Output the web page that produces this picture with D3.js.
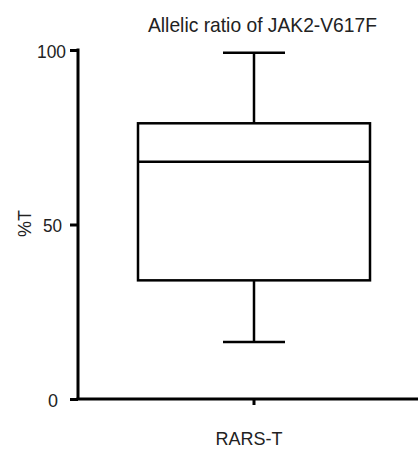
<!DOCTYPE html>
<html>
<head>
<meta charset="utf-8">
<script src="https://cdn.jsdelivr.net/npm/d3@7"></script>
<style>
  body { margin: 0; background: #fff; }
  svg { display: block; font-family: "Liberation Sans", Arial, sans-serif; }
</style>
</head>
<body>
<div class="visiHolder"></div>
<script>
const categories = ["RARS-T"];
const minValues = [16.3];
const q1Values = [34];
const medianValues = [68];
const q3Values = [79];
const maxValues = [99.2];
const yTicks = [0, 50, 100];

const width = 418;
const height = 450;

const svg = d3
  .select(".visiHolder")
  .append("svg")
  .attr("width", width)
  .attr("height", height);

const yScale = d3.scaleLinear().domain([0, 100]).range([399, 50]);
const xScale = d3.scaleBand().domain(categories).range([78, 430]);

// title (condensed look via textLength)
svg
  .append("text")
  .attr("x", 148)
  .attr("y", 32)
  .attr("font-size", 21)
  .attr("fill", "#222")
  .attr("textLength", 229)
  .attr("lengthAdjust", "spacingAndGlyphs")
  .text("Allelic ratio of JAK2-V617F");

// y axis
const yAxis = d3.axisLeft(yScale).tickValues(yTicks).tickSize(8).tickPadding(5);
const yG = svg
  .append("g")
  .attr("transform", "translate(78, 0)")
  .call(yAxis);
yG.select(".domain").attr("d", `M0,${yScale(100) - 1.5}V${yScale(0)}`).attr("stroke-width", 3);
yG.selectAll(".tick line").attr("stroke-width", 3);
yG.selectAll(".tick text")
  .attr("font-size", 19)
  .attr("fill", "#222")
  .attr("dy", "0.38em")
  .attr("x", (d) => (d === 100 ? -12 : d === 50 ? -16 : -20))
  .attr("textLength", (d) => (d === 100 ? 29 : d === 50 ? 19 : 10))
  .attr("lengthAdjust", "spacingAndGlyphs");

// x axis
const xAxis = d3.axisBottom(xScale).tickSize(6).tickPadding(27);
const xG = svg
  .append("g")
  .attr("transform", `translate(0, ${yScale(0)})`)
  .call(xAxis);
xG.select(".domain").attr("d", `M76.5,0H${width}`).attr("stroke-width", 3);
xG.selectAll(".tick line").attr("stroke-width", 3);
xG.selectAll(".tick text")
  .attr("font-size", 19)
  .attr("fill", "#222")
  .attr("dx", -5)
  .attr("textLength", 67)
  .attr("lengthAdjust", "spacingAndGlyphs");

// y label
svg
  .append("text")
  .attr("transform", `translate(31, ${yScale(50) - 1}) rotate(-90)`)
  .attr("text-anchor", "middle")
  .attr("font-size", 19)
  .attr("fill", "#222")
  .attr("textLength", 27)
  .attr("lengthAdjust", "spacingAndGlyphs")
  .text("%T");

// box plot
const boxWidth = 232;
const capWidth = 62;
const g = svg.append("g");
categories.forEach((c, i) => {
  const cx = xScale(c) + xScale.bandwidth() / 2;
  // whiskers
  g.append("line")
    .attr("x1", cx).attr("x2", cx)
    .attr("y1", yScale(maxValues[i])).attr("y2", yScale(q3Values[i]))
    .attr("stroke", "#000").attr("stroke-width", 2.5);
  g.append("line")
    .attr("x1", cx).attr("x2", cx)
    .attr("y1", yScale(q1Values[i])).attr("y2", yScale(minValues[i]))
    .attr("stroke", "#000").attr("stroke-width", 2.5);
  [maxValues[i], minValues[i]].forEach((v) => {
    g.append("line")
      .attr("x1", cx - capWidth / 2).attr("x2", cx + capWidth / 2)
      .attr("y1", yScale(v)).attr("y2", yScale(v))
      .attr("stroke", "#000").attr("stroke-width", 2.5);
  });
  // box
  g.append("rect")
    .attr("x", cx - boxWidth / 2)
    .attr("y", yScale(q3Values[i]))
    .attr("width", boxWidth)
    .attr("height", yScale(q1Values[i]) - yScale(q3Values[i]))
    .attr("fill", "none")
    .attr("stroke", "#000")
    .attr("stroke-width", 2.5);
  // median
  g.append("line")
    .attr("x1", cx - boxWidth / 2).attr("x2", cx + boxWidth / 2)
    .attr("y1", yScale(medianValues[i])).attr("y2", yScale(medianValues[i]))
    .attr("stroke", "#000").attr("stroke-width", 2.5);
});
</script>
</body>
</html>
